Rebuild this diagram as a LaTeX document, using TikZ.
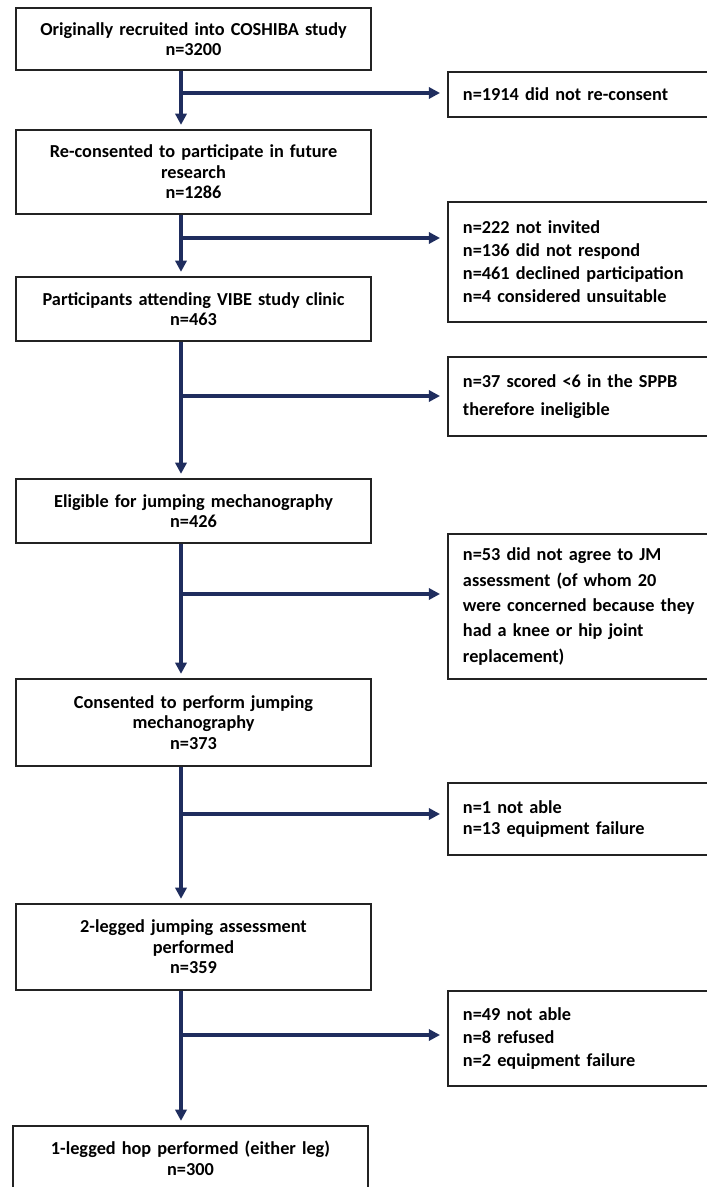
\documentclass[tikz,border=0pt]{standalone}
\usepackage{fontspec}
\setmainfont{Carlito}
\usepackage{tikz}
\usetikzlibrary{positioning,calc,arrows.meta}

\definecolor{flowblue}{RGB}{31,45,94}
\definecolor{boxline}{RGB}{35,35,35}

\begin{document}
\begin{tikzpicture}[x=0.025cm, y=-0.025cm,
    stage/.style={draw=boxline, line width=1.3pt, minimum width=8.875cm, text width=8.4cm, align=center, font=\bfseries\fontsize{13}{14.6}\selectfont},
    excl/.style={draw=boxline, line width=1.3pt, minimum width=6.8cm, text width=6.05cm, inner xsep=0.375cm, align=left, font=\bfseries\fontsize{13}{16.7}\selectfont},
    flow/.style={draw=flowblue, line width=2.3pt, shorten >=3pt, -{Triangle[length=8pt,width=8pt]}}]
    \useasboundingbox (0,0) rectangle (706,1187);

    % main column
    \node [stage, minimum height=1.55cm] (recruited) at (193.5,39) {Originally recruited into COSHIBA study\\n=3200};
    \node [stage, minimum height=2.1cm] (reconsented) at (193.5,172) {Re-consented to participate in future\\research\\n=1286};
    \node [stage, minimum height=1.6cm] (attending) at (193.5,309) {Participants attending VIBE study clinic\\n=463};
    \node [stage, minimum height=1.6cm] (eligible) at (193.5,511) {Eligible for jumping mechanography\\n=426};
    \node [stage, minimum height=2.175cm] (consented) at (193.5,722.5) {Consented to perform jumping\\mechanography\\n=373};
    \node [stage, minimum height=2.15cm] (twoleg) at (193.5,947) {2-legged jumping assessment\\performed\\n=359};
    \node [stage, minimum height=1.6cm] (oneleg) at (190.5,1158) {1-legged hop performed (either leg)\\n=300};

    % exclusions
    \node [excl, minimum height=1.125cm] (noreconsent) at (584,94.5) {n=1914 did not re-consent};
    \node [excl, minimum height=3cm, font=\bfseries\fontsize{13}{16.4}\selectfont] (notinvited) at (584,262) {n=222 not invited\\n=136 did not respond\\n=461 declined participation\\n=4 considered unsuitable};
    \node [excl, minimum height=1.975cm, font=\bfseries\fontsize{13}{19.8}\selectfont] (ineligible) at (584,396.5) {n=37 scored <6 in the SPPB\\therefore ineligible};
    \node [excl, minimum height=3.625cm, font=\bfseries\fontsize{13}{18}\selectfont] (noagree) at (584,606.5) {n=53 did not agree to JM\\assessment (of whom 20\\were concerned because they\\had a knee or hip joint\\replacement)};
    \node [excl, minimum height=1.8cm, font=\bfseries\fontsize{13}{14.4}\selectfont] (notable) at (584,819) {n=1 not able\\n=13 equipment failure};
    \node [excl, minimum height=2.375cm] (refused) at (584,1038.5) {n=49 not able\\n=8 refused\\n=2 equipment failure};

    \coordinate (spine) at (181,0);
    \coordinate (lvl1) at (0,93);
    \coordinate (lvl2) at (0,238);
    \coordinate (lvl3) at (0,396);
    \coordinate (lvl4) at (0,594);
    \coordinate (lvl5) at (0,814);
    \coordinate (lvl6) at (0,1035);

    \draw [flow] (recruited.south -| spine) -- (reconsented.north -| spine);
    \draw [flow] (reconsented.south -| spine) -- (attending.north -| spine);
    \draw [flow] (attending.south -| spine) -- (eligible.north -| spine);
    \draw [flow] (eligible.south -| spine) -- (consented.north -| spine);
    \draw [flow] (consented.south -| spine) -- (twoleg.north -| spine);
    \draw [flow] (twoleg.south -| spine) -- (oneleg.north -| spine);

    \draw [flow, shorten >=5pt] (spine |- lvl1) -- (lvl1 -| noreconsent.west);
    \draw [flow, shorten >=5pt] (spine |- lvl2) -- (lvl2 -| notinvited.west);
    \draw [flow, shorten >=5pt] (spine |- lvl3) -- (lvl3 -| ineligible.west);
    \draw [flow, shorten >=5pt] (spine |- lvl4) -- (lvl4 -| noagree.west);
    \draw [flow, shorten >=5pt] (spine |- lvl5) -- (lvl5 -| notable.west);
    \draw [flow, shorten >=5pt] (spine |- lvl6) -- (lvl6 -| refused.west);
\end{tikzpicture}
\end{document}
